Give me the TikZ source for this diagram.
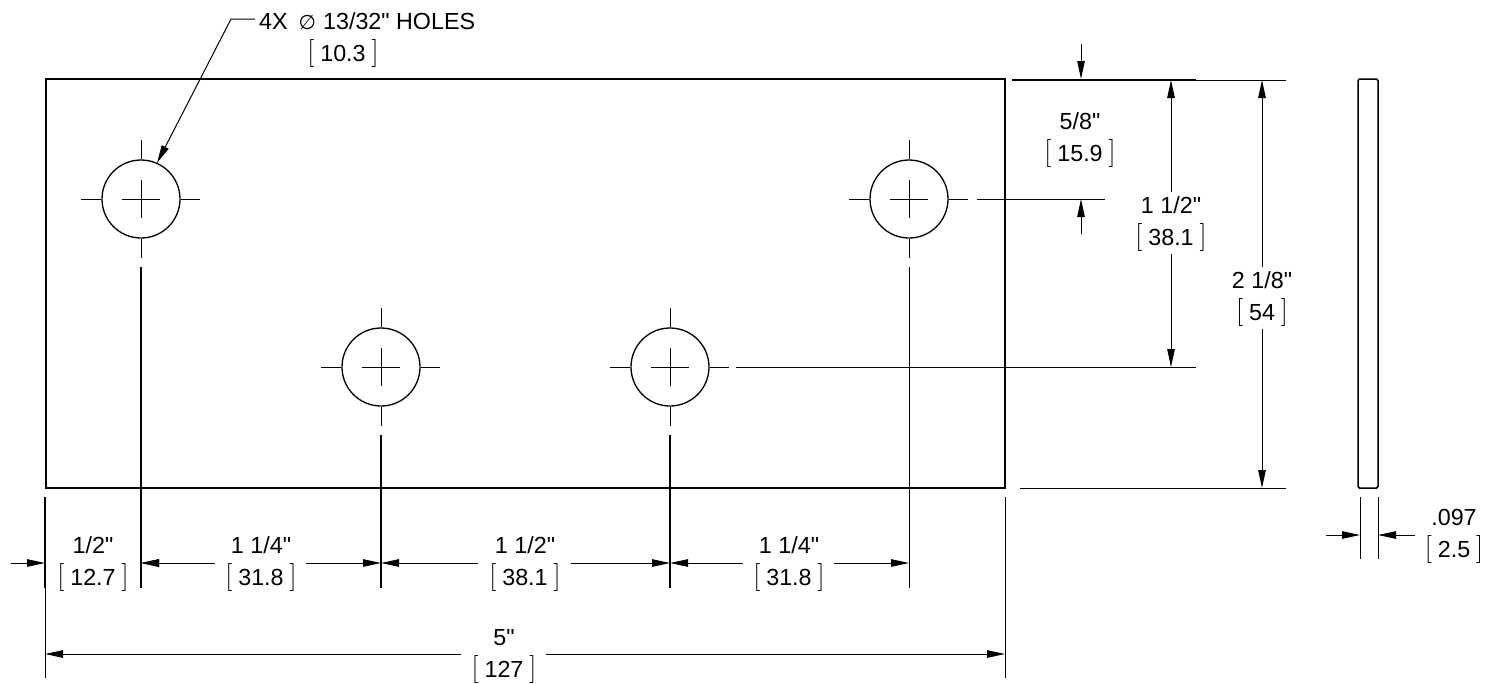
\documentclass[tikz,border=0pt]{standalone}
\usepackage{fontspec}
\setmainfont{Liberation Sans}
\newfontfamily\labelfont{Liberation Sans}
\newfontfamily\symfont{DejaVu Sans}
\newfontfamily\brkfont{Latin Modern Roman}
\usetikzlibrary{arrows.meta}
\newcommand{\brk}[1]{{\brkfont\fontsize{28}{32}\selectfont\raisebox{1pt}{[}}\hspace{6pt}#1\hspace{6pt}{\brkfont\fontsize{28}{32}\selectfont\raisebox{1pt}{]}}}
\newcommand{\dimt}[2]{\rule{0pt}{18pt}#1\\\brk{#2}\rule[-7pt]{0pt}{7pt}}
\tikzset{
  x=1pt,y=-1pt,
  outline/.style={line width=1.5pt},
  thin line/.style={line width=1pt},
  ext line/.style={line width=1pt},
  dim line/.style={line width=1pt,-{Triangle[length=18pt,width=7.5pt]}},
  label box/.style={inner sep=0pt,align=center,font=\labelfont\fontsize{23.3}{32}\selectfont},
  hole/.style={circle,draw,line width=1.3pt,minimum size=78pt,inner sep=0pt},
}
\begin{document}
\begin{tikzpicture}
\useasboundingbox (0,0) rectangle (1490,683);
% plate and side view
\draw[outline] (46,79) rectangle (1005,488);
\draw[outline,rounded corners=1.5pt] (1358,79) rectangle (1378,488);
% holes
\node[hole] (h1) at (141,199) {};
\node[hole] (h2) at (381,367) {};
\node[hole] (h3) at (670,367) {};
\node[hole] (h4) at (909,199) {};
\foreach \h in {h1,h2,h3,h4}{
  \draw[thin line] ([xshift=-19pt]\h.center) -- ([xshift=19pt]\h.center);
  \draw[thin line] ([yshift=-19pt]\h.center) -- ([yshift=19pt]\h.center);
  \draw[thin line] ([xshift=-60pt]\h.center) -- (\h.west);
  \draw[thin line] (\h.east) -- ([xshift=59pt]\h.center);
  \draw[thin line] ([yshift=59pt]\h.center) -- (\h.north);
  \draw[thin line] (\h.south) -- ([yshift=-59pt]\h.center);
}
% vertical extension lines
\coordinate (e1a) at (141,267); \coordinate (e1b) at (141,588);
\coordinate (e2a) at (381,435); \coordinate (e2b) at (381,588);
\coordinate (e3a) at (670,435); \coordinate (e3b) at (670,588);
\coordinate (e4a) at (909,267); \coordinate (e4b) at (909,588);
\coordinate (eLa) at (45,497);  \coordinate (eLb) at (45,588); \coordinate (eLc) at (45,678);
\coordinate (eRa) at (1005,497); \coordinate (eRb) at (1005,678);
\foreach \a/\b in {e1a/e1b,e2a/e2b,e3a/e3b,eLa/eLb}
  \draw[line width=1.5pt] (\a) -- (\b);
\draw[ext line] (e4a) -- (e4b);
\draw[ext line] (eRa) -- (eRb);
\draw[ext line] (eLb) -- (eLc);
% horizontal extension lines
\coordinate (t1) at (1012,80); \coordinate (t2) at (1196,80); \coordinate (t3) at (1286,80);
\coordinate (c1) at (977,199); \coordinate (c2) at (1105,199);
\coordinate (m1) at (736,367); \coordinate (m2) at (1196,367);
\coordinate (b1) at (1020,488); \coordinate (b2) at (1286,488);
\draw[line width=1.5pt] (t1) -- (t2);
\draw[ext line] (t2) -- (t3);
\foreach \a/\b in {c1/c2,m1/m2,b1/b2} \draw[ext line] (\a) -- (\b);
% side view extension lines
\coordinate (s1a) at (1360,497); \coordinate (s1b) at (1360,559);
\coordinate (s2a) at (1378,497); \coordinate (s2b) at (1378,559);
\draw[ext line] (s1a) -- (s1b);
\draw[ext line] (s2a) -- (s2b);
% labels
\node[label box] (d12) at (93,563.5) {\dimt{1/2"}{12.7}};
\node[label box] (d114a) at (261,563.5) {\dimt{1 1/4"}{31.8}};
\node[label box] (d112a) at (525,563.5) {\dimt{1 1/2"}{38.1}};
\node[label box] (d114b) at (789,563.5) {\dimt{1 1/4"}{31.8}};
\node[label box] (d5) at (504,655.5) {\dimt{5"}{127}};
\node[label box] (d58) at (1080,139.5) {\dimt{5/8"}{15.9}};
\node[label box] (d112b) at (1171,223.5) {\dimt{1 1/2"}{38.1}};
\node[label box] (d218) at (1262,298.5) {\dimt{2 1/8"}{54}};
\node[label box] (d097) at (1454,535.5) {\dimt{.097}{2.5}};
\node[label box,anchor=base west] (lead) at (259,29) {4X\hspace{11pt}{\symfont\fontsize{20}{32}\selectfont\char"2205}\hspace{7pt}13/32" HOLES};
\node[label box,anchor=base] (lead2) at (343,61) {\brk{10.3}};
% leader
\coordinate (lk) at (231,19);
\coordinate (lt) at (157,163);
\draw[dim line] (lead.west |- lk) ++(-4,0) -- (lk) -- (lt);
% 1/2 dimension
\coordinate (a0) at (11,563); \coordinate (a1) at (45,563);
\coordinate (a2) at (175,563); \coordinate (a3) at (141,563);
\draw[dim line] (a0) -- (a1);
\draw[dim line] (a2) -- (a3);
% 1 1/4
\coordinate (a4) at (215,563); \coordinate (a5) at (306,563); \coordinate (a6) at (381,563);
\draw[dim line] (a4) -- (a3);
\draw[dim line] (a5) -- (a6);
% 1 1/2
\coordinate (a7) at (478,563); \coordinate (a8) at (571,563); \coordinate (a9) at (670,563);
\draw[dim line] (a7) -- (a6);
\draw[dim line] (a8) -- (a9);
% 1 1/4 right
\coordinate (a10) at (743,563); \coordinate (a11) at (834,563); \coordinate (a12) at (909,563);
\draw[dim line] (a10) -- (a9);
\draw[dim line] (a11) -- (a12);
% 5"
\coordinate (f0) at (461,654); \coordinate (f1) at (45,654);
\coordinate (f2) at (546,654); \coordinate (f3) at (1005,654);
\draw[dim line] (f0) -- (f1);
\draw[dim line] (f2) -- (f3);
% 5/8
\coordinate (g0) at (1081,44); \coordinate (g1) at (1081,79);
\coordinate (g2) at (1081,234); \coordinate (g3) at (1081,199);
\draw[dim line] (g0) -- (g1);
\draw[dim line] (g2) -- (g3);
% 1 1/2 vertical
\coordinate (k0) at (1171,192); \coordinate (k1) at (1171,80);
\coordinate (k2) at (1171,254); \coordinate (k3) at (1171,367);
\draw[dim line] (k0) -- (k1);
\draw[dim line] (k2) -- (k3);
% 2 1/8
\coordinate (n0) at (1262,267); \coordinate (n1) at (1262,80);
\coordinate (n2) at (1262,329); \coordinate (n3) at (1262,488);
\draw[dim line] (n0) -- (n1);
\draw[dim line] (n2) -- (n3);
% .097
\coordinate (p0) at (1326,535); \coordinate (p1) at (1360,535);
\coordinate (p2) at (1415,535); \coordinate (p3) at (1378,535);
\draw[dim line] (p0) -- (p1);
\draw[dim line] (p2) -- (p3);
\end{tikzpicture}
\end{document}
